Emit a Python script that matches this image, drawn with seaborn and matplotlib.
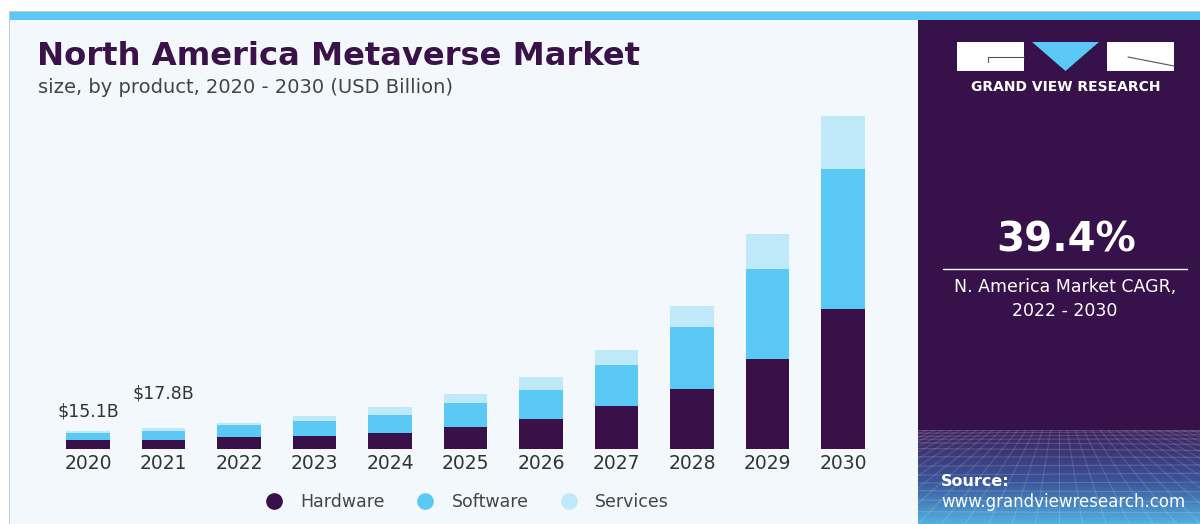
import numpy as np
import pandas as pd
import seaborn as sns
import matplotlib.pyplot as plt
from matplotlib.patches import Rectangle, Polygon
from matplotlib.lines import Line2D

# values (USD billion)
years = ["2020", "2021", "2022", "2023", "2024", "2025", "2026", "2027", "2028", "2029", "2030"]
hardware = [7.4, 7.4, 9.7, 11.1, 13.7, 19.0, 25.4, 37.0, 51.5, 77.6, 121.0]
software = [6.3, 8.2, 10.4, 12.8, 15.4, 20.3, 25.5, 35.9, 53.9, 78.5, 122.3]
services = [1.4, 2.2, 2.3, 4.6, 6.7, 7.8, 11.3, 12.8, 18.8, 30.2, 46.1]
segments = ["Hardware", "Software", "Services"]
bar_labels = {"2020": "$15.1B", "2021": "$17.8B"}
cagr_value = "39.4%"
cagr_text = "N. America Market CAGR,\n2022 - 2030"

hw_c = "#3a1048"
sw_c = "#5bc9f5"
sv_c = "#bfe8f9"
panel_c = "#37114a"
bg_c = "#f3f8fc"

df = pd.DataFrame({"year": years, "Hardware": hardware,
                   "Software": software, "Services": services})
df["hw_sw"] = df["Hardware"] + df["Software"]
df["total"] = df["hw_sw"] + df["Services"]

sns.set_style("white")
plt.rcParams["font.family"] = ["DejaVu Sans"]

W, H = 1200, 524
fig = plt.figure(figsize=(12, 5.24), dpi=100)
fig.patch.set_facecolor("white")


def fx(px):
    return px / W


def fy(py):
    return 1 - py / H


def box(x0, y0, x1, y1, color, z=-5):
    fig.add_artist(Rectangle((fx(x0), fy(y1)), (x1 - x0) / W, (y1 - y0) / H,
                             transform=fig.transFigure, facecolor=color,
                             edgecolor="none", zorder=z))


# background panels
box(9, 20, 918, 524, bg_c)
box(9, 12, 1200, 20, "#5bc9f5")
box(9, 11, 1200, 12, "#c9c9c9")
box(9, 11, 10, 524, "#c9c9c9")
box(918, 20, 1200, 524, panel_c)

# gradient with mesh at the bottom of the right panel
gax = fig.add_axes([fx(918), 0, (1200 - 918) / W, (524 - 430) / H], zorder=-2)
top = np.array([0x3d, 0x22, 0x5c]) / 255
mid = np.array([0x3a, 0x55, 0x9a]) / 255
bot = np.array([0x52, 0xb0, 0xe0]) / 255
t = np.linspace(0, 1, 100)[:, None]
grad = np.where(t < 0.55, top + (mid - top) * (t / 0.55),
                mid + (bot - mid) * ((t - 0.55) / 0.45))
gax.imshow(grad[:, None, :].repeat(2, axis=1), aspect="auto", extent=(0, 1, 1, 0))
for k in range(14):
    yy = (k / 13) ** 1.6
    gax.plot([0, 1], [yy + 0.02 * np.sin(k), yy], color="white", alpha=0.16, lw=0.8)
for k in range(-12, 25):
    x0 = k / 12
    gax.plot([0.5 + (x0 - 0.5) * 0.35, x0], [0, 1], color="white", alpha=0.14, lw=0.8)
gax.set_xlim(0, 1)
gax.set_ylim(1, 0)
gax.axis("off")

# main chart
ax = fig.add_axes([fx(50.25), fy(448.5), 830.5 / W, 348.5 / H])
ax.patch.set_alpha(0)
for col, c in (("total", sv_c), ("hw_sw", sw_c), ("Hardware", hw_c)):
    sns.barplot(data=df, x="year", y=col, color=c, width=0.58, saturation=1,
                errorbar=None, linewidth=0, ax=ax)
ax.set_ylim(0, 303)
ax.set_xlim(-0.5, len(years) - 0.5)
ax.set_yticks([])
ax.set_xlabel("")
ax.set_ylabel("")
sns.despine(ax=ax, left=True, bottom=True)
ax.tick_params(axis="x", length=0, pad=4, labelsize=13.5, colors="#333333")

offsets = {"2020": 14, "2021": 25}
for i, yr in enumerate(years):
    if yr in bar_labels:
        ax.annotate(bar_labels[yr], xy=(i, df["total"][i]), xytext=(0, offsets[yr]),
                    textcoords="offset points", ha="center", va="center",
                    fontsize=12.5, color="#333333")

handles = [Line2D([], [], marker="o", linestyle="", markersize=11,
                  markerfacecolor=c, markeredgecolor=c) for c in (hw_c, sw_c, sv_c)]
fig.legend(handles, segments, loc="center", bbox_to_anchor=(fx(463), fy(501.7)),
           ncol=3, frameon=False, fontsize=12.5, handletextpad=0.5,
           columnspacing=1.35, labelcolor="#444444")

# titles
fig.text(fx(37), fy(65), "North America Metaverse Market", fontsize=23.2,
         fontweight="heavy", color="#3b1149", va="baseline")
fig.text(fx(38), fy(92.7), "size, by product, 2020 - 2030 (USD Billion)",
         fontsize=14, color="#444444", va="baseline")

# logo
box(957, 42, 1024, 71, "white", z=2)
box(1107, 42, 1174, 71, "white", z=2)
fig.add_artist(Polygon([(fx(1032), fy(42)), (fx(1099), fy(42)), (fx(1065.5), fy(71))],
                       closed=True, transform=fig.transFigure, facecolor="#5bc9f5",
                       edgecolor="none", zorder=2))
fig.add_artist(Line2D([fx(988), fx(1024)], [fy(57), fy(57)], color="#555555",
                      lw=0.8, transform=fig.transFigure, zorder=3))
fig.add_artist(Line2D([fx(988), fx(988)], [fy(57), fy(62)], color="#555555",
                      lw=0.8, transform=fig.transFigure, zorder=3))
fig.add_artist(Line2D([fx(1128), fx(1174)], [fy(57), fy(66)], color="#555555",
                      lw=0.8, transform=fig.transFigure, zorder=3))
fig.text(fx(1065.5), fy(87), "GRAND VIEW RESEARCH", fontsize=10, fontweight="bold",
         color="white", ha="center", va="center")

# CAGR block
fig.text(fx(1066), fy(240), cagr_value, fontsize=29, fontweight="bold",
         color="white", ha="center", va="center")
fig.add_artist(Line2D([fx(943), fx(1187)], [fy(268.7), fy(268.7)], color="white",
                      lw=1, transform=fig.transFigure, zorder=3))
fig.text(fx(1065), fy(299), cagr_text, fontsize=12.5, color="white",
         ha="center", va="center", linespacing=1.4)

# source
fig.text(fx(941), fy(482), "Source:", fontsize=11.5, fontweight="bold",
         color="white", va="center")
fig.text(fx(941), fy(502), "www.grandviewresearch.com", fontsize=12,
         color="white", va="center")

fig.savefig("out.png", dpi=100)
